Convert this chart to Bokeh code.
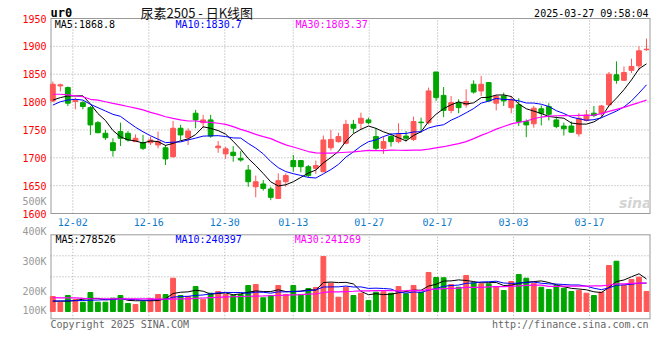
from bokeh.plotting import figure
from bokeh.layouts import column
from bokeh.models import ColumnDataSource, Label, Range1d
from bokeh.core.properties import value
from bokeh.embed import file_html
from bokeh.resources import INLINE

# ---------------- data ----------------
dates = ["11-27", "11-28", "11-29",
         "12-02", "12-03", "12-04", "12-05", "12-06",
         "12-09", "12-10", "12-11", "12-12", "12-13",
         "12-16", "12-17", "12-18", "12-19", "12-20",
         "12-23", "12-24", "12-25", "12-26", "12-27",
         "12-30", "12-31", "01-02", "01-03",
         "01-06", "01-07", "01-08", "01-09", "01-10",
         "01-13", "01-14", "01-15", "01-16", "01-17",
         "01-20", "01-21", "01-22", "01-23", "01-24",
         "01-27", "02-05", "02-06", "02-07",
         "02-10", "02-11", "02-12", "02-13", "02-14",
         "02-17", "02-18", "02-19", "02-20", "02-21",
         "02-24", "02-25", "02-26", "02-27", "02-28",
         "03-03", "03-04", "03-05", "03-06", "03-07",
         "03-10", "03-11", "03-12", "03-13", "03-14",
         "03-17", "03-18", "03-19", "03-20", "03-21",
         "03-24", "03-25", "03-26", "03-27"]

opens = [1802, 1829, 1826, 1801, 1799, 1790, 1763, 1744, 1727, 1747,
         1744, 1729, 1727, 1727, 1723, 1718, 1702, 1753, 1736, 1780,
         1763, 1768, 1718, 1707, 1710, 1699, 1678, 1648, 1653, 1644,
         1627, 1657, 1695, 1695, 1684, 1681, 1675, 1718, 1729, 1726,
         1760, 1762, 1768, 1738, 1717, 1738, 1729, 1739, 1733, 1764,
         1763, 1854, 1812, 1785, 1799, 1795, 1832, 1820, 1835, 1798,
         1811, 1790, 1795, 1765, 1761, 1788, 1792, 1768, 1757, 1757,
         1743, 1767, 1780, 1780, 1795, 1849, 1839, 1857, 1865, 1894]

highs = [1837, 1833, 1828, 1808, 1802, 1793, 1766, 1750, 1735, 1763,
         1748, 1742, 1741, 1738, 1747, 1723, 1766, 1759, 1753, 1786,
         1777, 1777, 1730, 1720, 1721, 1712, 1687, 1668, 1660, 1648,
         1672, 1672, 1705, 1695, 1687, 1695, 1740, 1750, 1745, 1768,
         1768, 1781, 1772, 1753, 1738, 1744, 1762, 1748, 1774, 1772,
         1826, 1854, 1827, 1811, 1805, 1823, 1839, 1847, 1835, 1813,
         1817, 1811, 1807, 1769, 1793, 1794, 1798, 1774, 1763, 1765,
         1780, 1786, 1793, 1795, 1854, 1873, 1864, 1878, 1900, 1914]

lows = [1800, 1819, 1793, 1787, 1787, 1741, 1744, 1732, 1702, 1721,
        1729, 1729, 1714, 1723, 1717, 1687, 1700, 1732, 1723, 1753,
        1753, 1736, 1709, 1698, 1693, 1693, 1648, 1629, 1641, 1624,
        1626, 1648, 1675, 1674, 1665, 1671, 1674, 1713, 1727, 1724,
        1744, 1750, 1760, 1713, 1707, 1720, 1726, 1729, 1730, 1745,
        1760, 1802, 1773, 1780, 1780, 1790, 1815, 1811, 1801, 1785,
        1793, 1780, 1757, 1737, 1754, 1758, 1767, 1753, 1740, 1745,
        1738, 1765, 1773, 1773, 1792, 1833, 1838, 1852, 1857, 1892]

closes = [1832, 1831, 1798, 1803, 1792, 1759, 1745, 1736, 1713, 1735,
          1732, 1735, 1717, 1732, 1729, 1698, 1753, 1741, 1748, 1768,
          1768, 1739, 1721, 1716, 1704, 1696, 1657, 1657, 1645, 1629,
          1659, 1668, 1684, 1684, 1668, 1686, 1732, 1733, 1738, 1760,
          1753, 1771, 1763, 1717, 1729, 1729, 1742, 1735, 1765, 1763,
          1820, 1808, 1785, 1799, 1790, 1801, 1818, 1832, 1802, 1810,
          1802, 1804, 1765, 1759, 1789, 1780, 1778, 1756, 1752, 1746,
          1771, 1777, 1776, 1793, 1850, 1839, 1853, 1864, 1892, 1895]

volumes = [128000, 79000, 136500, 102000, 79000, 162000, 79000, 79000, 113500, 136500,
           68000, 60000, 83000, 111000, 145000, 145000, 284000, 136500, 128000, 213000,
           105000, 156000, 171000, 145000, 136500, 145000, 222000, 230000, 117000, 136500,
           222000, 145000, 222000, 145000, 196000, 205000, 469000, 241000, 122000, 207000,
           136500, 156000, 94000, 165000, 168000, 156000, 213000, 151000, 222000, 165000,
           333000, 290000, 288000, 230000, 207000, 307000, 245000, 236000, 236000, 213000,
           179000, 256000, 316000, 284000, 241000, 207000, 188000, 222000, 199000, 171000,
           179000, 156000, 136500, 165000, 392500, 429000, 222000, 273000, 293000, 171000]

# moving-average values before enough visible history exists
ma5_head = [1803.6, 1808, 1811, 1811]
ma10_head = [1794.6, 1800.6, 1803.6, 1805, 1803.6, 1796, 1790, 1784, 1778]
ma30_head = [1814, 1814, 1813, 1811, 1809.5, 1805, 1803.6, 1800.6, 1797.6, 1795,
             1792, 1789, 1786, 1781.4, 1778, 1773.6, 1770.6, 1768, 1766, 1766,
             1764.6, 1763.4, 1762, 1760, 1756, 1751, 1747, 1742, 1738]
vma5_head = [88000, 88000, 88000, 94000]
vma10_head = [90000, 90000, 91000, 92000, 94000, 96000, 98000, 100000, 102000]
vma30_head = [118000, 117000, 117000, 116000, 112000, 110000, 109000, 109000, 108000, 108000,
              108000, 107000, 107000, 107000, 106000, 106000, 106000, 107000, 108000, 112000,
              115000, 118000, 121000, 124000, 126000, 128000, 130000, 132000, 133000]

tick_dates = ["12-02", "12-16", "12-30", "01-13", "01-27", "02-17", "03-03", "03-17"]
price_ticks = [1600, 1650, 1700, 1750, 1800, 1850, 1900, 1950]

title_text = "尿素2505 - 日K线图"
symbol_text = "ur0"
time_text = "2025-03-27 09:58:04"
ma_price_texts = ["MA5:1868.8", "MA10:1830.7", "MA30:1803.37"]
ma_vol_texts = ["MA5:278526", "MA10:240397", "MA30:241269"]
vol_axis_texts = ["500K", "400K", "300K", "200K", "100K"]
footer_left = "Copyright 2025 SINA.COM"
footer_right = "http://finance.sina.com.cn"


def moving_avg(vals, n, head):
    out = list(head)
    for i in range(n - 1, len(vals)):
        out.append(sum(vals[i - n + 1:i + 1]) / n)
    return out


# ---------------- styling / layout constants (page pixels) ----------------
RED = "#ff5656"
GREEN = "#00a600"
GRID = "#a8a8a8"
FRAME = "#9a9a9a"
GRAY_TXT = "#999999"
DATE_COLOR = "#0a78c8"
MONO = "DejaVu Sans Mono"
W = 658                          # page width used
BOX_L, BOX_R = 50, 650           # plot box, left/right
PX = 7.515                       # pixels per trading day
X0 = -0.31                       # day index at the box's left edge
X1 = X0 + (BOX_R - BOX_L) / PX
TICK_STEP = 1.0112
TICK_SHIFT = -0.373
LABEL_X = X0 - 4 / PX            # right edge of the left-hand scale labels
PY = 195 / 350                   # pixels per price unit
PRICE_ROW0 = 213                 # page row of the 1600 line
TOP_H = 218                      # height of upper figure
VK = 0.1172 / 1000               # pixels per lot of volume
VOL_ZERO_ROW = 311               # page row of zero volume
LOW_TOP, LOW_BOT = 218, 333      # page rows covered by the lower figure
VOL_BOX = (-62300, 654400)       # volume box (bottom, top) in lots
BASE_FIX = 3                     # baseline correction for Label text


def price_at(row):
    return price_ticks[0] + (PRICE_ROW0 - row) / PY


def vol_at(row):
    return (VOL_ZERO_ROW - row) / VK


n = len(dates)
xs = list(range(n))
colors = [RED if c >= o else GREEN for o, c in zip(opens, closes)]
src = ColumnDataSource(dict(
    x=xs, open=opens, high=highs, low=lows, close=closes,
    top=[max(o, c) for o, c in zip(opens, closes)],
    bottom=[min(o, c) for o, c in zip(opens, closes)],
    vol=volumes, color=colors))

tick_pos = [round(dates.index(d) * TICK_STEP + TICK_SHIFT, 3) for d in tick_dates]
ma_colors = ["#000000", "#0000ff", "#ff00ff"]
XL, XR = X0 + 0.5 / PX, X1 - 0.5 / PX
x_range = Range1d(X0 - BOX_L / PX, X0 + (W - BOX_L) / PX)


def make_fig(h, y0, y1):
    f = figure(frame_width=W, frame_height=h, x_range=x_range, y_range=Range1d(y0, y1),
               output_backend="svg", toolbar_location=None, min_border=0,
               background_fill_color="white", border_fill_color="white",
               outline_line_color=None)
    f.xaxis.visible = False
    f.yaxis.visible = False
    f.grid.visible = False
    return f


def add_text(fig, txt, x, row, fig_bottom, color="#000000", size="10px", font=MONO,
             align="left", style="normal"):
    fig.add_layout(Label(x=x, y=fig_bottom - row + BASE_FIX, x_units="screen", y_units="screen",
                         text=txt, text_color=color, text_font=font, text_font_size=size,
                         text_align=align, text_baseline="alphabetic", text_font_style=style))


def box_and_grid(fig, lo, hi, levels):
    k = len(tick_pos)
    fig.segment(x0=tick_pos, y0=[lo] * k, x1=tick_pos, y1=[hi] * k,
                line_color=GRID, line_dash="1 2", line_width=1)
    m = len(levels)
    fig.segment(x0=[X0] * m, y0=levels, x1=[X1] * m, y1=levels,
                line_color=GRID, line_dash="1 2", line_width=1)
    fig.segment(x0=[XL, XR, X0, X0], y0=[lo, lo, lo, hi], x1=[XL, XR, X1, X1], y1=[hi, hi, lo, hi],
                line_color=FRAME, line_width=1)


def scale_labels(fig, ys, texts, color):
    s = ColumnDataSource(dict(x=[LABEL_X] * len(ys), y=ys, text=texts))
    fig.text(x="x", y="y", text="text", source=s, text_color=color,
             text_font=value(MONO), text_font_size=value("10px"),
             text_align="right", text_baseline="middle")


# ---------------- upper figure: title row + price panel ----------------
p = make_fig(TOP_H, price_at(TOP_H), price_at(0))
box_and_grid(p, price_ticks[0], price_ticks[-1], price_ticks[1:-1])

p.segment(x0="x", y0="low", x1="x", y1="high", color="color", line_width=1, source=src)
p.vbar(x="x", width=0.64, top="top", bottom="bottom", fill_color="color",
       line_color="color", line_width=1, source=src)
p.line(xs, moving_avg(closes, 5, ma5_head), color="#000000", line_width=1)
p.line(xs, moving_avg(closes, 10, ma10_head), color="#0000ff", line_width=1)
p.line(xs, moving_avg(closes, 30, ma30_head), color="#ff00ff", line_width=1.2)

scale_labels(p, price_ticks, [str(t) for t in price_ticks], "#ff0000")
scale_labels(p, [price_at(200.7)], vol_axis_texts[:1], GRAY_TXT)

for txt, col, xo in zip(ma_price_texts, ma_colors, [54.3, 175, 295]):
    add_text(p, txt, xo, 26.7, TOP_H, color=col)
add_text(p, symbol_text, 50, 15.3, TOP_H, size="12px", style="bold")
add_text(p, title_text, 140, 14.8, TOP_H, color="#111111", size="13px", font="Noto Sans CJK SC")
add_text(p, time_text, 648, 15.7, TOP_H, align="right")
add_text(p, "sina", 651, 205, TOP_H, color="#d4d4d4", size="14px", font="DejaVu Sans",
         align="right", style="bold italic")

# ---------------- lower figure: date row + volume panel + footer ----------------
vp = make_fig(LOW_BOT - LOW_TOP, vol_at(LOW_BOT), vol_at(LOW_TOP))
lo, hi = VOL_BOX
box_and_grid(vp, lo, hi, [lo + (hi - lo) * q for q in (0.25, 0.5, 0.75)])

vp.vbar(x="x", width=0.64, top="vol", bottom=0, fill_color="color",
        line_color="color", line_width=1, source=src)
vp.line(xs, moving_avg(volumes, 5, vma5_head), color="#000000", line_width=1)
vp.line(xs, moving_avg(volumes, 10, vma10_head), color="#0000ff", line_width=1)
vp.line(xs, moving_avg(volumes, 30, vma30_head), color="#ff00ff", line_width=1.2)

vol_label_rows = [230.7, 260.7, 290.7, 310]      # where Sina prints 400K..100K
scale_labels(vp, [vol_at(r) for r in vol_label_rows], vol_axis_texts[1:], GRAY_TXT)

date_src = ColumnDataSource(dict(x=tick_pos, y=[vol_at(221.7)] * len(tick_pos), text=tick_dates))
vp.text(x="x", y="y", text="text", source=date_src, text_color=DATE_COLOR,
        text_font=value(MONO), text_font_size=value("10px"),
        text_align="center", text_baseline="middle")

for txt, col, xo in zip(ma_vol_texts, ma_colors, [55, 175, 294.3]):
    add_text(vp, txt, xo, 241.7, LOW_BOT, color=col)
add_text(vp, footer_left, 50, 326.7, LOW_BOT, color="#666666")
add_text(vp, footer_right, 648, 326.7, LOW_BOT, color="#666666", align="right")

layout = column(p, vp, spacing=0)
open("out.html", "w").write(file_html(layout, INLINE))
